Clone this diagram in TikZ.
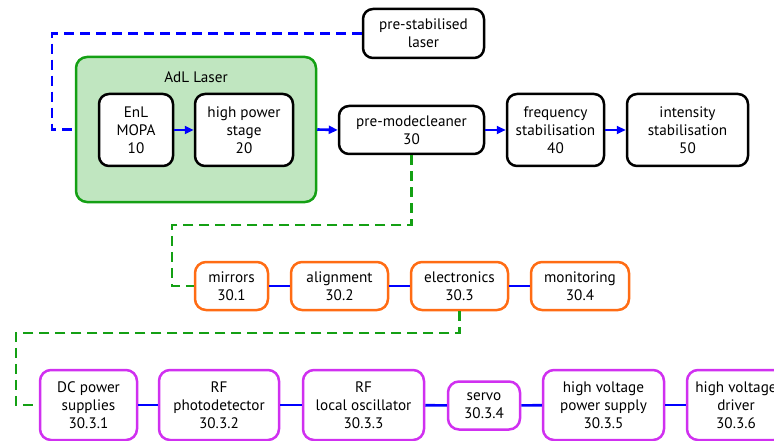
\documentclass[tikz,border=0pt]{standalone}
\usepackage{fontspec}
\setmainfont{PT Sans}
\usetikzlibrary{arrows.meta}
\definecolor{adlgreen}{RGB}{20,160,20}
\definecolor{adlfill}{RGB}{192,230,192}
\definecolor{subor}{RGB}{255,108,20}
\definecolor{subpur}{RGB}{208,48,240}

\begin{document}
\begin{tikzpicture}[x=1pt,y=-1pt,
  font=\fontsize{15.2}{18}\selectfont,
  blk/.style={draw=black,line width=2.5pt,fill=white,rounded corners=10pt,align=center,inner sep=0pt},
  orbox/.style={draw=subor,line width=2.5pt,fill=white,rounded corners=11pt,align=center,inner sep=0pt,minimum height=48pt},
  purbox/.style={draw=subpur,line width=2.5pt,fill=white,rounded corners=11pt,align=center,inner sep=0pt,minimum height=70pt},
  flow/.style={draw=blue,line width=2.6pt,-{Triangle[length=9pt,width=8pt]}},
  link/.style={draw=blue,line width=2.6pt},
  bluedash/.style={draw=blue,line width=2.6pt,dash pattern=on 10pt off 6pt},
  greendash/.style={draw=adlgreen,line width=2.6pt,dash pattern=on 10pt off 6pt}]
\useasboundingbox (0,0) rectangle (774,441);

\node[draw=adlgreen,fill=adlfill,line width=2.5pt,rounded corners=11pt,minimum width=240pt,minimum height=145pt] (adl) at (196,129.5) {};
\node (adltitle) at (196,77) {AdL Laser};
\node[blk,minimum width=74pt,minimum height=72pt] (mopa) at (136,130) {EnL\\MOPA\\10};
\node[blk,minimum width=98pt,minimum height=72pt] (hps) at (244,130) {high power\\stage\\20};
\node[blk,minimum width=121pt,minimum height=49pt] (psl) at (423.5,33.5) {pre-stabilised\\laser};
\node[blk,minimum width=145pt,minimum height=48pt] (pmc) at (411.5,130) {pre-modecleaner\\30};
\node[blk,minimum width=97pt,minimum height=72pt] (freq) at (555.5,130) {frequency\\stabilisation\\40};
\node[blk,minimum width=121pt,minimum height=72pt] (inten) at (687.5,130) {intensity\\stabilisation\\50};

\node[orbox,minimum width=73pt] (mirrors) at (231.5,286) {mirrors\\30.1};
\node[orbox,minimum width=97pt] (alignm) at (339.5,286) {alignment\\30.2};
\node[orbox,minimum width=97pt] (elec) at (459.5,286) {electronics\\30.3};
\node[orbox,minimum width=98pt] (monit) at (580,286) {monitoring\\30.4};

\node[purbox,minimum width=97pt] (dcps) at (88.5,405) {DC power\\supplies\\30.3.1};
\node[purbox,minimum width=120pt] (rfpd) at (219,405) {RF\\photodetector\\30.3.2};
\node[purbox,minimum width=121pt] (rflo) at (363.5,405) {RF\\local oscillator\\30.3.3};
\node[purbox,minimum width=72pt,minimum height=48pt] (servo) at (484,405.5) {servo\\30.3.4};
\node[purbox,minimum width=121pt] (hvps) at (603.5,405) {high voltage\\power supply\\30.3.5};
\node[purbox,minimum width=98pt] (hvd) at (736,405) {high voltage\\driver\\30.3.6};

\coordinate (pslbend) at (52,33.5);
\coordinate (pmcbend) at (172,225);
\coordinate (elecbend) at (16,333);

\draw[bluedash] (psl.west) -- (pslbend) |- (adl.west);
\draw[flow] (mopa) -- (hps);
\draw[flow] (adl.east) -- (pmc.west);
\draw[flow] (pmc.east) -- (pmc.east -| freq.west);
\draw[flow] (freq) -- (inten);

\draw[greendash] (pmc.south) |- (pmcbend) |- (mirrors.west);
\draw[link] (mirrors) -- (alignm);
\draw[link] (alignm) -- (elec);
\draw[link] (elec) -- (monit);

\draw[greendash] (elec.south) |- (elecbend) |- (dcps.west);
\draw[link] (dcps) -- (rfpd);
\draw[link] (rfpd) -- (rflo);
\draw[link] (rflo) -- (servo);
\draw[link] (servo) -- (hvps);
\draw[link] (hvps) -- (hvd);
\end{tikzpicture}
\end{document}
